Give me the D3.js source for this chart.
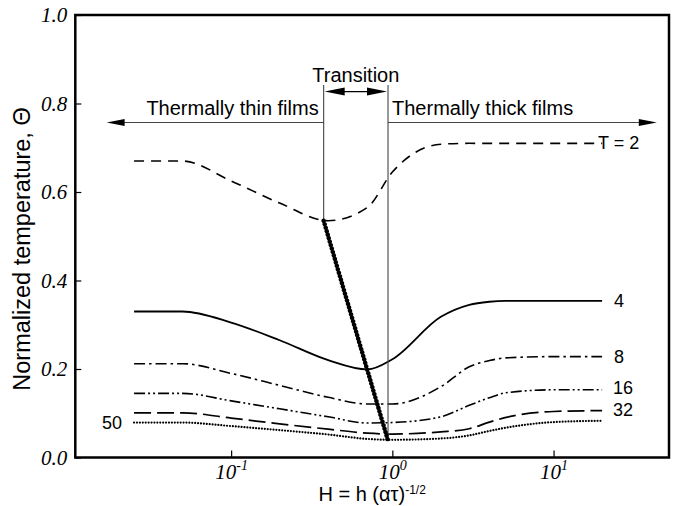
<!DOCTYPE html>
<html>
<head>
<meta charset="utf-8">
<script src="https://cdn.jsdelivr.net/npm/d3@7"></script>
<style>
  body { margin: 0; background: #fff; }
  svg { display: block; }
</style>
</head>
<body>
<svg id="chart" width="676" height="506"></svg>
<script>
// film thickness H and normalized temperature for each pulse length T
const hValues = [0.025, 0.05, 0.1, 0.2, 0.4, 0.7, 1, 2, 3, 4, 5, 10, 20];
const theta2  = [0.67, 0.67, 0.625, 0.575, 0.535, 0.565, 0.645, 0.708, 0.71, 0.71, 0.71, 0.71, 0.71];
const theta4  = [0.33, 0.33, 0.305, 0.265, 0.22, 0.199, 0.222, 0.318, 0.345, 0.352, 0.354, 0.354, 0.354];
const theta8  = [0.212, 0.212, 0.19, 0.163, 0.136, 0.121, 0.121, 0.16, 0.205, 0.219, 0.225, 0.228, 0.228];
const theta16 = [0.145, 0.145, 0.128, 0.11, 0.092, 0.078, 0.079, 0.092, 0.118, 0.135, 0.146, 0.153, 0.153];
const theta32 = [0.101, 0.101, 0.089, 0.076, 0.064, 0.055, 0.053, 0.058, 0.065, 0.08, 0.09, 0.104, 0.106];
const theta50 = [0.079, 0.079, 0.071, 0.062, 0.052, 0.042, 0.04, 0.043, 0.05, 0.06, 0.067, 0.08, 0.083];
const seriesNames = ["T = 2", "4", "8", "16", "32", "50"];

// line through the minima, and the transition band
const minLineH = [0.375, 0.94];
const minLineTheta = [0.535, 0.038];

const xMajor = [0.1, 1, 10];
const xMinor = [0.02, 0.03, 0.04, 0.05, 0.06, 0.07, 0.08, 0.09,
                0.2, 0.3, 0.4, 0.5, 0.6, 0.7, 0.8, 0.9,
                2, 3, 4, 5, 6, 7, 8, 9, 20, 30, 40, 50];
const yMajor = [0, 0.2, 0.4, 0.6, 0.8, 1.0];
const yMinor = [0.04, 0.08, 0.12, 0.16, 0.24, 0.28, 0.32, 0.36, 0.44, 0.48, 0.52, 0.56,
                0.64, 0.68, 0.72, 0.76, 0.84, 0.88, 0.92, 0.96];

const sans = "'Liberation Sans', Arial, Helvetica, sans-serif";
const serif = "'Liberation Serif', 'Times New Roman', serif";

const svg = d3.select("#chart");
const plotL = 75.3, plotR = 669, plotT = 15, plotB = 457.5;

const x = d3.scaleLog().domain([0.0108, 52]).range([plotL, plotR]);
const y = d3.scaleLinear().domain([0, 1]).range([plotB, plotT]);

// axes (ticks point inward)
const gx = svg.append("g").attr("transform", `translate(0,${plotB})`);
gx.call(d3.axisBottom(x).tickValues(xMinor).tickSize(-4).tickFormat(""));
gx.call(d3.axisBottom(x).tickValues(xMajor).tickSize(-7).tickFormat(""));
gx.select(".domain").remove();
gx.selectAll("line").attr("stroke", "#000").attr("stroke-width", 1.2);

gx.selectAll(".tick").filter(d => xMajor.includes(d)).append("text")
    .attr("y", 21)
    .attr("fill", "#000")
    .attr("text-anchor", "middle")
    .style("font-family", serif)
    .style("font-style", "italic")
    .style("font-size", "21px")
    .each(function (d) {
        const t = d3.select(this);
        t.append("tspan").text("10");
        t.append("tspan").attr("dy", -9).style("font-size", "14px").text(Math.round(Math.log10(d)));
    });

const gy = svg.append("g").attr("transform", `translate(${plotL},0)`);
gy.call(d3.axisLeft(y).tickValues(yMinor).tickSize(-3).tickFormat(""));
gy.call(d3.axisLeft(y).tickValues(yMajor).tickSize(-6).tickPadding(8).tickFormat(d3.format(".1f")));
gy.select(".domain").remove();
gy.selectAll("line").attr("stroke", "#000").attr("stroke-width", 1.2);
gy.selectAll("text")
    .attr("fill", "#000")
    .style("font-family", serif)
    .style("font-style", "italic")
    .style("font-size", "21px");

// frame
svg.append("rect")
    .attr("x", plotL).attr("y", plotT)
    .attr("width", plotR - plotL).attr("height", plotB - plotT)
    .attr("fill", "none").attr("stroke", "#000").attr("stroke-width", 2.5);

// curves
const line = d3.line()
    .x(d => x(d[0]))
    .y(d => y(d[1]))
    .curve(d3.curveMonotoneX);

const styles = [
    { data: theta2,  dash: "10,7",           width: 1.6 },
    { data: theta4,  dash: null,             width: 1.8 },
    { data: theta8,  dash: "11,4,2.5,4",     width: 1.6 },
    { data: theta16, dash: "11,3,2,3,2,3",   width: 1.6 },
    { data: theta32, dash: "17,6",           width: 1.7 },
    { data: theta50, dash: "0.01,2.9",       width: 2.2, cap: "round" }
];

svg.append("g").selectAll("path")
    .data(styles)
    .join("path")
    .attr("d", s => line(hValues.map((h, i) => [h, s.data[i]])))
    .attr("fill", "none")
    .attr("stroke", "#000")
    .attr("stroke-width", s => s.width)
    .attr("stroke-dasharray", s => s.dash)
    .attr("stroke-linecap", s => s.cap || "butt");

// transition guides
const guide = svg.append("g").attr("stroke", "#444").attr("stroke-width", 1.1);
const guideTop = y(0.842);
guide.append("line")
    .attr("x1", x(minLineH[0])).attr("x2", x(minLineH[0]))
    .attr("y1", guideTop).attr("y2", y(minLineTheta[0]));
guide.append("line")
    .attr("x1", x(minLineH[1])).attr("x2", x(minLineH[1]))
    .attr("y1", guideTop).attr("y2", y(minLineTheta[1]));

const arrowY = y(0.757);
const thinTip = x(0.0169), thickTip = x(43.7);
guide.append("line").attr("x1", thinTip + 10).attr("x2", x(minLineH[0])).attr("y1", arrowY).attr("y2", arrowY);
guide.append("line").attr("x1", x(minLineH[1])).attr("x2", thickTip - 10).attr("y1", arrowY).attr("y2", arrowY);

const transY = y(0.827);
svg.append("line")
    .attr("x1", x(minLineH[0]) + 10).attr("x2", x(minLineH[1]) - 10)
    .attr("y1", transY).attr("y2", transY)
    .attr("stroke", "#000").attr("stroke-width", 1.2);

function arrowHead(tipX, tipY, dir, len, half) {
    svg.append("path")
        .attr("d", `M${tipX},${tipY}L${tipX - dir * len},${tipY - half}L${tipX - dir * len},${tipY + half}Z`)
        .attr("fill", "#000");
}
arrowHead(thinTip, arrowY, -1, 18, 3.5);
arrowHead(thickTip, arrowY, 1, 18, 3.5);
arrowHead(x(minLineH[0]) + 1, transY, -1, 20, 4);
arrowHead(x(minLineH[1]) - 1, transY, 1, 20, 4);

// thick beaded line joining the minima
svg.append("path")
    .attr("d", d3.line().x(d => x(d[0])).y(d => y(d[1]))(minLineH.map((h, i) => [h, minLineTheta[i]])))
    .attr("fill", "none")
    .attr("stroke", "#000")
    .attr("stroke-width", 4.5)
    .attr("stroke-linecap", "round")
    .attr("stroke-dasharray", "0.01,3.6");

// annotation text
const txt = svg.append("g").attr("fill", "#000").style("font-family", sans).style("font-size", "20px");
txt.append("text").attr("x", (x(minLineH[0]) + x(minLineH[1])) / 2).attr("y", 82)
    .attr("text-anchor", "middle").text("Transition");
txt.append("text").attr("x", x(minLineH[0]) - 5).attr("y", 115)
    .attr("text-anchor", "end").text("Thermally thin films");
txt.append("text").attr("x", x(minLineH[1]) + 4).attr("y", 115)
    .text("Thermally thick films");

// curve labels
const lab = svg.append("g").attr("fill", "#000").style("font-family", sans).style("font-size", "18px");
const last = hValues.length - 1;
lab.append("text").attr("x", 598).attr("y", y(theta2[last]) + 6).text(seriesNames[0]);
lab.append("text").attr("x", 614).attr("y", y(theta4[last]) + 6).text(seriesNames[1]);
lab.append("text").attr("x", 614).attr("y", y(theta8[last]) + 6).text(seriesNames[2]);
lab.append("text").attr("x", 613).attr("y", y(theta16[last]) + 4).text(seriesNames[3]);
lab.append("text").attr("x", 613).attr("y", y(theta32[last]) + 5).text(seriesNames[4]);
lab.append("text").attr("x", 102).attr("y", y(theta50[0]) + 6).text(seriesNames[5]);

// axis titles
const xt = svg.append("text")
    .attr("x", (plotL + plotR) / 2).attr("y", 501)
    .attr("text-anchor", "middle")
    .style("font-family", sans).style("font-size", "20px");
xt.append("tspan").text("H = h (ατ)");
xt.append("tspan").attr("dy", -7).style("font-size", "12px").text("-1/2");

svg.append("text")
    .attr("transform", `translate(30,249) rotate(-90)`)
    .attr("text-anchor", "middle")
    .style("font-family", sans).style("font-size", "23.5px")
    .text("Normalized temperature, Θ");
</script>
</body>
</html>
